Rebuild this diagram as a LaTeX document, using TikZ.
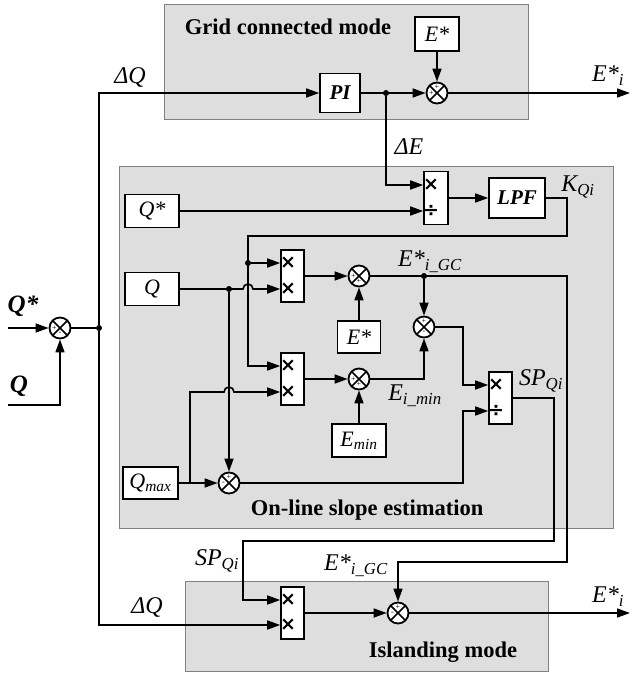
\documentclass[tikz,border=0pt]{standalone}
\usepackage{fontspec}
\setmainfont{Liberation Serif}
\newfontfamily\symfont{DejaVu Sans}
\usetikzlibrary{arrows.meta,calc}
\begin{document}
\begin{tikzpicture}[x=1pt,y=-1pt,
  region/.style={draw=black!50,fill=black!13,line width=0.9pt},
  blk/.style={draw,fill=white,line width=1.6pt,inner sep=0pt},
  wire/.style={line width=1.6pt},
  arr/.style={wire,-{Triangle[length=13pt,width=9pt]}},
  sj/.style={circle,draw,fill=white,line width=1.8pt,minimum size=21pt,inner sep=0pt,
     path picture={\draw[line width=1.6pt] (path picture bounding box.north west)--(path picture bounding box.south east) (path picture bounding box.north east)--(path picture bounding box.south west);}},
  sg/.style={font=\fontsize{8}{8}\selectfont,inner sep=0pt},
  lbl/.style={font=\fontsize{24}{24}\selectfont\itshape,inner sep=0pt},
  inl/.style={font=\fontsize{25}{25}\selectfont\bfseries\itshape,inner sep=0pt},
  bt/.style={font=\fontsize{22}{22}\selectfont\itshape},
  bbt/.style={font=\fontsize{21}{21}\selectfont\bfseries\itshape},
  ttl/.style={font=\fontsize{22.5}{22.5}\selectfont\bfseries,inner sep=0pt},
  mk/.style={font=\symfont\bfseries\fontsize{19}{19}\selectfont,inner sep=0pt},
  dotn/.style={circle,fill,inner sep=0pt,minimum size=6pt},
]
\useasboundingbox (0,0) rectangle (634,675);
\fill[white] (0,0) rectangle (634,675);

% regions
\draw[region] (164,4) rectangle (528,119);
\draw[region] (119,166) rectangle (613,528);
\draw[region] (185,581) rectangle (548,671);
\node[ttl] (gct) at (288,27) {Grid connected mode};
\node[ttl] (ont) at (367,510) {On-line slope estimation};
\node[ttl] (ilt) at (443,652) {Islanding mode};

% blocks
\node[blk,bt,minimum width=44pt,minimum height=34pt] (es1) at (437,34) {E*};
\node[blk,bbt,minimum width=40pt,minimum height=39pt] (pi) at (340,93) {PI};
\node[sj] (sgc) at (437,93) {};
\node[blk,minimum width=24pt,minimum height=53pt] (div1) at (436,198) {};
\node[blk,bt,minimum width=54pt,minimum height=33pt] (qs) at (152,211) {Q*};
\node[blk,bbt,minimum width=56pt,minimum height=40pt] (lpf) at (517,198) {LPF};
\node[blk,bt,minimum width=54pt,minimum height=33pt] (q) at (152,289) {Q};
\node[blk,minimum width=23pt,minimum height=52pt] (mul1) at (292.5,276) {};
\node[blk,minimum width=23pt,minimum height=52pt] (mul2) at (292.5,379) {};
\node[sj] (s2) at (359,276) {};
\node[sj] (s3) at (359,379) {};
\node[sj] (s4) at (424,327) {};
\node[blk,bt,minimum width=43pt,minimum height=32pt] (es2) at (359,337) {E*};
\node[blk,bt,minimum width=54pt,minimum height=33pt] (emin) at (359,440.5) {E\textsubscript{min}};
\node[blk,minimum width=23pt,minimum height=52pt] (div2) at (500.5,398) {};
\node[blk,bt,minimum width=55pt,minimum height=32pt] (qmax) at (150.5,483) {Q\textsubscript{max}};
\node[sj] (s5) at (229,483) {};
\node[sj] (s0) at (60,328) {};
\node[blk,minimum width=23pt,minimum height=52pt] (imul) at (292.5,613) {};
\node[sj] (isum) at (398,613) {};

% dots / coordinates
\node[dotn] (d0) at (99,328) {};
\node[dotn] (d1) at (386,93) {};
\node[dotn] (d2) at (248,263) {};
\node[dotn] (d3) at (229,289) {};
\node[dotn] (d4) at (424,276) {};
\coordinate (out1) at (630,93);
\coordinate (out2) at (630,613);
\coordinate (inqs) at (8,328);
\coordinate (inq) at (8,405);
\coordinate (k1) at (567,236);
\coordinate (k2) at (248,366);
\coordinate (g1) at (567,562);
\coordinate (p1) at (463,385);
\coordinate (p2) at (463,411);
\coordinate (sp1) at (554,541);
\coordinate (sp2) at (243,600);
\coordinate (qm1) at (190,483);

% signs
\node[sg] at ([yshift=5.5pt]sgc.center) {+};
\node[sg] at ([xshift=-5.5pt]sgc.center) {+};
\node[sg] at ([xshift=-5.5pt]s2.center) {+};
\node[sg] at ([yshift=-5.5pt]s2.center) {+};
\node[sg] at ([xshift=-5.5pt]s3.center) {+};
\node[sg] at ([yshift=-5.5pt]s3.center) {+};
\node[sg] at ([yshift=5.5pt]s4.center) {+};
\node[sg] at ([yshift=-5.5pt]s4.center) {-};
\node[sg] at ([xshift=-5.5pt]s0.center) {+};
\node[sg] at ([yshift=-5.5pt]s0.center) {-};
\node[sg] at ([yshift=5.5pt]s5.center) {+};
\node[sg] at ([xshift=-5.5pt]s5.center) {-};
\node[sg] at ([yshift=5.5pt]isum.center) {+};
\node[sg] at ([xshift=-5.5pt]isum.center) {-};

% multiplier marks
\node[mk] at ([xshift=8pt,yshift=13pt]div1.west) {×};
\node[mk] at ([xshift=8pt,yshift=-13pt]div1.west) {÷};
\node[mk] at ([xshift=8pt,yshift=13pt]mul1.west) {×};
\node[mk] at ([xshift=8pt,yshift=-13pt]mul1.west) {×};
\node[mk] at ([xshift=8pt,yshift=13pt]mul2.west) {×};
\node[mk] at ([xshift=8pt,yshift=-13pt]mul2.west) {×};
\node[mk] at ([xshift=8pt,yshift=13pt]div2.west) {×};
\node[mk] at ([xshift=8pt,yshift=-13pt]div2.west) {÷};
\node[mk] at ([xshift=8pt,yshift=13pt]imul.west) {×};
\node[mk] at ([xshift=8pt,yshift=-12pt]imul.west) {×};

% wires
\draw[arr] (inqs) -- (s0.west);
\draw[arr] (inq) -| (s0.south);
\draw[wire] (s0.east) -- (d0);
\draw[arr] (d0) |- (pi.west);
\draw[arr] (d0) |- ([yshift=-12pt]imul.west);
\draw[arr] (pi.east) -- (sgc.west);
\draw[arr] (es1.south) -- (sgc.north);
\draw[arr] (sgc.east) -- (out1);
\draw[arr] (d1) |- ([yshift=13pt]div1.west);
\draw[arr] (qs.east) -- ([yshift=-13pt]div1.west);
\draw[arr] (div1.east) -- (lpf.west);
\draw[arr] (lpf.east) -| (k1) -| (k2) -- ([yshift=13pt]mul2.west);
\draw[arr] (d2) -- ([yshift=13pt]mul1.west);
\draw[arr] (q.east) -- (243,289) arc[start angle=180,end angle=0,radius=5pt] -- ([yshift=-13pt]mul1.west);
\draw[arr] (d3) -- (s5.north);
\draw[arr] (mul1.east) -- (s2.west);
\draw[arr] (es2.north) -- (s2.south);
\draw[arr] (s2.east) -| (g1) -| (isum.north);
\draw[arr] (d4) -- (s4.north);
\draw[arr] (mul2.east) -- (s3.west);
\draw[arr] (emin.north) -- (s3.south);
\draw[arr] (s3.east) -| (s4.south);
\draw[arr] (s4.east) -| (p1) -- ([yshift=13pt]div2.west);
\draw[arr] (qmax.east) -- (s5.west);
\draw[arr] (qm1) -- (190,392) -- (224,392) arc[start angle=180,end angle=0,radius=5pt] -- ([yshift=-13pt]mul2.west);
\draw[arr] (s5.east) -| (p2) -- ([yshift=-13pt]div2.west);
\draw[arr] (div2.east) -| (sp1) -| (sp2) -- ([yshift=13pt]imul.west);
\draw[arr] (imul.east) -- (isum.west);
\draw[arr] (isum.east) -- (out2);

% labels
\node[inl] (lqs) at (23,306) {Q*};
\node[inl] (lq) at (19,386) {Q};
\node[lbl] (ldq1) at (130,77) {ΔQ};
\node[lbl] (lei1) at (608,76) {E*\textsubscript{i}};
\node[lbl] (lde) at (409,147) {ΔE};
\node[lbl] (lkq) at (578,187) {K\textsubscript{Qi}};
\node[lbl] (legc) at (430,262) {E*\textsubscript{i\_GC}};
\node[lbl] (lemin) at (415,396) {E\textsubscript{i\_min}};
\node[lbl] (lsp1) at (541,381) {SP\textsubscript{Qi}};
\node[lbl] (lsp2) at (217,561) {SP\textsubscript{Qi}};
\node[lbl] (legc2) at (356,566) {E*\textsubscript{i\_GC}};
\node[lbl] (ldq2) at (147,607) {ΔQ};
\node[lbl] (lei2) at (608,597) {E*\textsubscript{i}};
\end{tikzpicture}
\end{document}
